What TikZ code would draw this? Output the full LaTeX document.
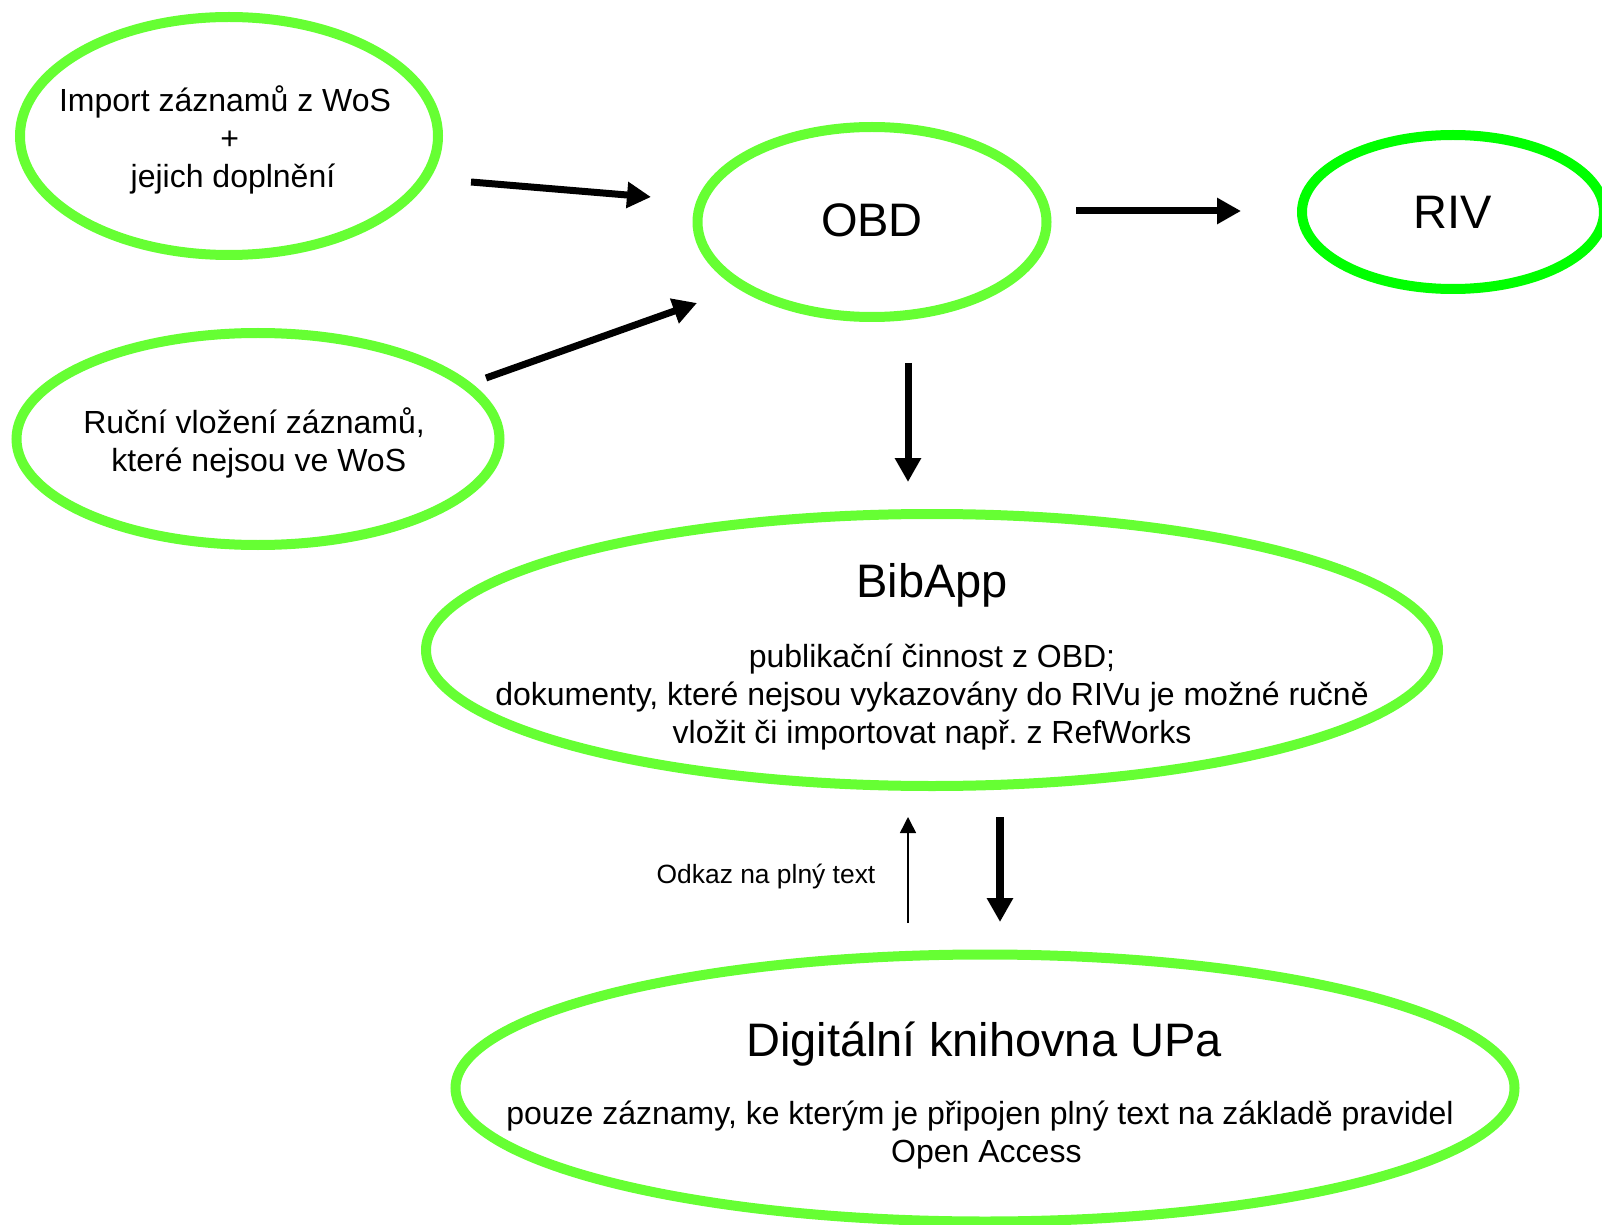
\documentclass[tikz,border=0pt]{standalone}
\usepackage{fontspec}
\setmainfont{Liberation Sans}
\usetikzlibrary{shapes.geometric,arrows.meta}
\definecolor{ovalgreen}{RGB}{102,255,51}
\definecolor{rivgreen}{RGB}{0,255,0}
\frenchspacing
\begin{document}
\begin{tikzpicture}[x=0.5pt,y=-0.5pt,
    oval/.style={draw=ovalgreen,line width=5pt,ellipse,inner sep=0pt},
    txt/.style={align=center,inner sep=0pt,font=\fontsize{16}{19}\selectfont},
    big/.style={inner sep=0pt,font=\fontsize{23.5}{28}\selectfont},
    fat/.style={line width=3.5pt,-{Triangle[length=12pt,width=12.5pt]}},
    slim/.style={line width=0.75pt,-{Triangle[length=8pt,width=8pt]}}]
    \useasboundingbox (0,0) rectangle (1602,1225);

    % ovals
    \node[oval,minimum width=209pt,minimum height=119pt] (imp) at (229,136) {};
    \node[oval,minimum width=241.5pt,minimum height=106pt] (man) at (258,439) {};
    \node[oval,minimum width=174.5pt,minimum height=95pt] (obd) at (872,222) {};
    \node[oval,draw=rivgreen,minimum width=151pt,minimum height=77pt] (riv) at (1453,212) {};
    \node[oval,minimum width=506pt,minimum height=136pt] (bib) at (932,650) {};
    \node[oval,minimum width=529.5pt,minimum height=133.5pt] (dig) at (985,1088) {};

    % texts
    \node[txt] (imptxt) at (225,140) {Import záznamů z WoS\\\hspace*{.3em}+\\\hspace*{.5em}jejich doplnění};
    \node[txt] (mantxt) at (254,443) {Ruční vložení záznamů,\\\hspace*{.3em}které nejsou ve WoS};
    \node[big] (obdtxt) at ([yshift=1pt]obd.center) {OBD};
    \node[big] (rivtxt) at (riv.center) {RIV};
    \node[big] (bibtitle) at (932,585) {BibApp};
    \node[txt] (bibtxt) at (932,697) {publikační činnost z OBD;\\dokumenty, které nejsou vykazovány do RIVu je možné ručně\\vložit či importovat např. z RefWorks};
    \node[big] (digtitle) at (984,1044) {Digitální knihovna UPa};
    \node[txt] (digtxt) at (980,1135) {pouze záznamy, ke kterým je připojen plný text na základě pravidel\\\hspace*{.4em}Open Access};
    \node[inner sep=0pt,font=\fontsize{13.2}{16}\selectfont] (odkaz) at (766,877) {Odkaz na plný text};

    % arrow ends
    \coordinate (a1) at (471,182);
    \coordinate (a2) at (651,197);
    \coordinate (b1) at (486,378);
    \coordinate (b2) at (697,303);
    \coordinate (c1) at (1076,211);
    \coordinate (c2) at (1241,211);
    \coordinate (d1) at (908,363);
    \coordinate (d2) at (908,482);
    \coordinate (e1) at (908,923);
    \coordinate (e2) at (908,817);
    \coordinate (f1) at (1000,817);
    \coordinate (f2) at (1000,922);

    % arrows
    \draw[fat] (a1) -- (a2);
    \draw[fat] (b1) -- (b2);
    \draw[fat] (c1) -- (c2);
    \draw[fat] (d1) -- (d2);
    \draw[slim] (e1) -- (e2);
    \draw[fat,line width=4pt] (f1) -- (f2);
\end{tikzpicture}
\end{document}
